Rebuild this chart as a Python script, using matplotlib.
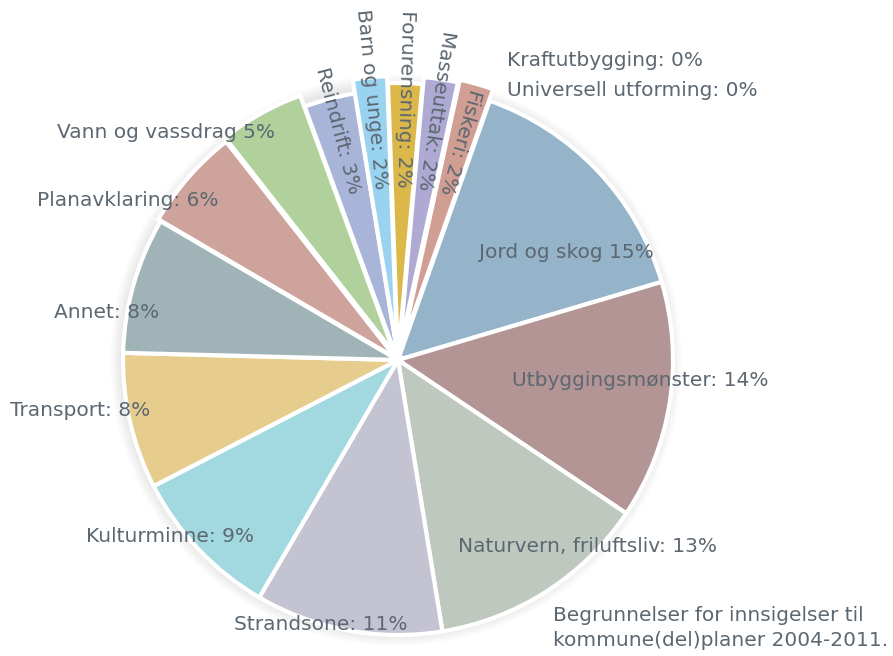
import matplotlib
matplotlib.use("Agg")
import matplotlib.pyplot as plt
import numpy as np
from matplotlib.patches import Circle

W, H = 893, 656
INK = "#5c6771"
FONT = "DejaVu Sans"

# clockwise from the top right, as in the source chart
categories = ["Jord og skog", "Utbyggingsmønster", "Naturvern, friluftsliv", "Strandsone",
              "Kulturminne", "Transport", "Annet", "Planavklaring", "Vann og vassdrag",
              "Reindrift", "Barn og unge", "Forurensning", "Masseuttak", "Fiskeri",
              "Kraftutbygging", "Universell utforming"]
shares = [15, 14, 13, 11, 9, 8, 8, 6, 5, 3, 2, 2, 2, 2, 0, 0]
separators = [" ", ": ", ": ", ": ", ": ", ": ", ": ", ": ", " ",
              ": ", ": ", ": ", ": ", ": ", ": ", ": "]
colors = ["#95b4c9", "#b39595", "#bec8be", "#c4c3d2", "#a2d9e0", "#e6cd8e", "#a0b4b8",
          "#cea39c", "#b0d09c", "#a9b5d8", "#99d3ef", "#dcb84a", "#aeaad4", "#d19e94",
          "#9fb7c9", "#c9b1a9"]
caption = "Begrunnelser for innsigelser til\nkommune(del)planer 2004-2011."

# small outward shifts (px) seen on some slices of the original
slice_shift = [0, 0, 0, 0, 0, 0, 0, 3, 7, -5, 9, 2, 9, 12, 0, 0]

# label anchors in pixel coords (x, y from top) for the horizontal labels
flat_xy = [(566, 253), (640, 380), (587, 546), (321, 625), (170, 537),
           (80, 411), (107, 313), (128, 201), (166, 132)]
zero_xy = [(507, 60), (507, 90)]

CX, CY, R = 398, H - 360, 275


def px(x, y):
    return x, H - y


labels = [f"{c}{s}{v}%" for c, s, v in zip(categories, separators, shares)]
nz = [i for i, v in enumerate(shares) if v > 0]

fig = plt.figure(figsize=(W / 100, H / 100), dpi=100, facecolor="white")
ax = fig.add_axes([0, 0, 1, 1])

# soft halo behind the pie
for k in range(12):
    ax.add_patch(Circle((CX - 2, CY), R + 1.0 * k, color="black", alpha=0.009, lw=0, zorder=0))

wedges, _ = ax.pie([shares[i] for i in nz], colors=[colors[i] for i in nz],
                   startangle=70.5, counterclock=False, center=(CX, CY), radius=R,
                   wedgeprops=dict(edgecolor="white", linewidth=3))
for w, i in zip(wedges, nz):
    mid = np.deg2rad((w.theta1 + w.theta2) / 2)
    w.set_center((CX + slice_shift[i] * np.cos(mid), CY + slice_shift[i] * np.sin(mid)))

fs = 14.5
for i, (x, y) in enumerate(flat_xy):
    ax.text(*px(x, y), labels[i], ha="center", va="center", color=INK,
            fontsize=fs, family=FONT)

for j, i in enumerate(nz[len(flat_xy):]):
    w = wedges[len(flat_xy) + j]
    mid = np.deg2rad((w.theta1 + w.theta2) / 2)
    rot = np.rad2deg(mid) + 180
    if rot > 180:
        rot -= 360
    ax.text(CX + 172 * np.cos(mid), CY + 172 * np.sin(mid), labels[i],
            rotation=rot, rotation_mode="anchor", ha="right", va="center",
            color=INK, fontsize=fs, family=FONT)

zeros = [i for i, v in enumerate(shares) if v == 0]
for (x, y), i in zip(zero_xy, zeros):
    ax.text(*px(x, y), labels[i], ha="left", va="center", color=INK,
            fontsize=fs, family=FONT)

ax.text(*px(553, 628), caption, ha="left", va="center", color=INK,
        fontsize=fs, family=FONT, linespacing=1.45)

ax.set_xlim(0, W)
ax.set_ylim(0, H)
ax.set_aspect("equal")
ax.axis("off")
fig.savefig("out.png", dpi=100, facecolor="white")
